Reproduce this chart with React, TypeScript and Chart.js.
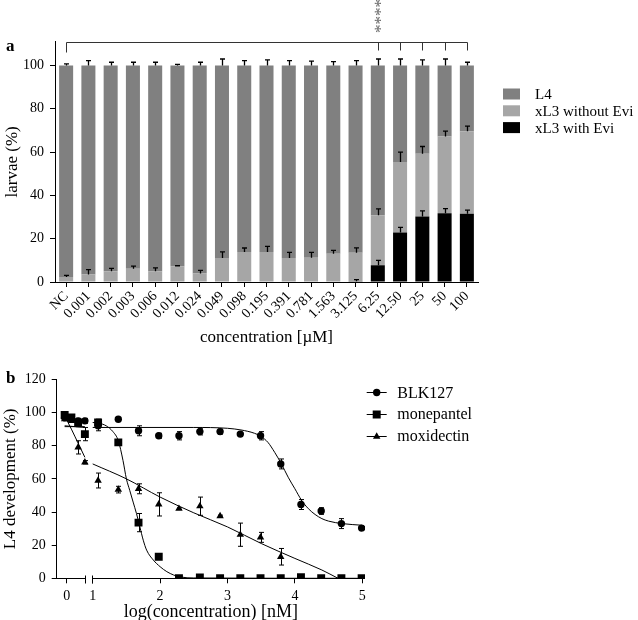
import React, { useEffect, useRef } from 'react';
import { Chart, registerables } from 'chart.js';

Chart.register(...registerables);

const SERIF = '"Liberation Serif", "Times New Roman", Times, serif';

// ---------------- Panel a data ----------------
const concentrationsA = ['NC', '0.001', '0.002', '0.003', '0.006', '0.012', '0.024', '0.049', '0.098', '0.195', '0.391', '0.781', '1.563', '3.125', '6.25', '12.50', '25', '50', '100'];
const l4Pct = [97.7, 96.5, 95, 93.9, 95, 92.8, 96.1, 88.9, 86.1, 86.1, 88.9, 88.8, 87, 86.5, 69.2, 44.6, 40.8, 32.8, 30.4];
const xl3WithoutEviPct = [2.3, 3.5, 5, 6.1, 5, 7.2, 3.9, 11.1, 13.9, 13.9, 11.1, 11.2, 13, 13.2, 23.1, 32.5, 28.9, 35.4, 38.1];
const xl3WithEviPct = [0, 0, 0, 0, 0, 0, 0, 0, 0, 0, 0, 0, 0, 0.3, 7.7, 22.9, 30.3, 31.8, 31.5];
const l4Err = [0.8, 2.3, 1.5, 1.5, 1.5, 0.5, 1.5, 3, 2.3, 2.6, 2.3, 2, 1.8, 2.3, 3, 3, 2.6, 3, 1.5];
const xl3WithoutEviErr = [0.8, 2.2, 1.3, 1.2, 1.5, 0.3, 1.5, 2.8, 1.8, 2.6, 2.6, 2.5, 1.6, 2.3, 3, 4.6, 3.4, 2.5, 2.4];
const xl3WithEviErr = [0, 0, 0, 0, 0, 0, 0, 0, 0, 0, 0, 0, 0, 0.8, 2.3, 2.3, 2.6, 2.1, 1.7];
const yTicksA = [0, 20, 40, 60, 80, 100];
const significantCats = ['6.25', '12.50', '25', '50', '100'];
const significanceMark = '****';

// ---------------- Panel b data ----------------
const logConcB = [-0.03, 0.07, 0.17, 0.27, 1.08, 1.38, 1.68, 1.98, 2.28, 2.59, 2.89, 3.19, 3.49, 3.79, 4.09, 4.39, 4.69, 4.99];
const blk127 = [97, 96, 95, 95, 92, 96, 89, 86, 86, 88.5, 88.5, 87, 86, 69, 44.5, 40.6, 33, 30.3];
const blk127Err = [1, 1, 1, 1.5, 3, 0.5, 3, 1.5, 2.5, 2, 1.5, 1, 2.5, 3, 3, 2, 3, 0.5];
const monepantel = [98.5, 97, 94, 87, 94, 82, 33.6, 13, 0, 0.5, 0, 0, 0, 0, 0.7, 0, 0, 0];
const monepantelErr = [1.5, 1.5, 2.5, 4, 2, 1, 5.5, 1, 0, 0, 0, 0, 0, 0, 0.5, 0, 0, 0];
const moxidectin = [96, 95, 79, 70, 59, 53.5, 54, 44.6, 42, 43.5, 37.6, 26.3, 24.7, 13];
const moxidectinErr = [1, 1, 4, 1, 4.5, 2, 3, 7, 0.5, 5.5, 0.5, 7, 3, 5];

// fitted curves
const blk127FitLeftX = [-0.03, 0.27];
const blk127FitLeftY = [91.5, 91.5];
const blk127FitX = [1.0, 2.5, 3.0, 3.2, 3.4, 3.5, 3.6, 3.7, 3.8, 3.9, 4.0, 4.1, 4.2, 4.3, 4.4, 4.5, 4.7, 5.0];
const blk127FitY = [91, 91, 90.5, 89.5, 87.5, 85.5, 82, 76, 69, 61, 54, 47, 42, 38.5, 36, 34.5, 33, 32];
const monepantelFitLeftX = [-0.03, 0.27];
const monepantelFitLeftY = [92, 91];
const monepantelFitX = [1.0, 1.1, 1.2, 1.3, 1.38, 1.45, 1.5, 1.55, 1.6, 1.65, 1.7, 1.75, 1.8, 1.9, 2.0, 2.1, 2.2, 2.3, 2.5, 5.0];
const monepantelFitY = [94, 93.5, 92, 88.5, 83, 71, 60, 53, 46, 39, 31, 23, 17, 11, 7, 4, 2, 0.8, 0.2, 0];
const moxidectinFitLeftX = [-0.03, 0.07, 0.17, 0.27];
const moxidectinFitLeftY = [98, 90, 81.5, 73];
const moxidectinFitX = [1.0, 1.5, 2.0, 2.5, 3.0, 3.5, 4.0, 4.4, 4.64];
const moxidectinFitY = [69, 60, 49, 39.5, 31, 21, 12, 5, 0];

const xTickValuesB = [0, 1, 2, 3, 4, 5];
const yTicksB = [0, 20, 40, 60, 80, 100, 120];

// axis break: values between the two segments are cut out
const LEFT_SEG_END = 0.27;
const BREAK_SHIFT = 0.614;
const RIGHT_SEG_START = 0.371;
const toAxis = (x: number) => (x > 0.6 ? x - BREAK_SHIFT : x);

const COLOR_L4 = '#808080';
const COLOR_WITHOUT = '#a6a6a6';
const COLOR_WITH = '#000000';

Chart.defaults.font.family = SERIF;
Chart.defaults.color = '#000';

function drawMarker(ctx: CanvasRenderingContext2D, style: string, x: number, y: number) {
  ctx.beginPath();
  if (style === 'circle') {
    ctx.arc(x, y, 3.7, 0, Math.PI * 2);
  } else if (style === 'rect') {
    ctx.rect(x - 4, y - 4, 8, 8);
  } else {
    const r = 4.3;
    ctx.moveTo(x, y - r);
    ctx.lineTo(x + r * 0.866, y + r * 0.5);
    ctx.lineTo(x - r * 0.866, y + r * 0.5);
    ctx.closePath();
  }
  ctx.fill();
}

const panelAPlugin = {
  id: 'panelAExtras',
  afterDatasetsDraw(chart: any) {
    const ctx = chart.ctx;
    const ys = chart.scales.y;
    const ppu = ys.getPixelForValue(0) - ys.getPixelForValue(1);
    ctx.save();
    ctx.strokeStyle = '#000';
    ctx.lineWidth = 1.3;
    chart.data.datasets.forEach((ds: any, i: number) => {
      const meta = chart.getDatasetMeta(i);
      meta.data.forEach((el: any, j: number) => {
        const e = ds.errors[j];
        if (!e) return;
        const x = Math.round(el.x) + 0.5;
        const top = el.y - e * ppu;
        ctx.beginPath();
        ctx.moveTo(x, el.y);
        ctx.lineTo(x, top);
        ctx.moveTo(x - 2.5, top);
        ctx.lineTo(x + 2.5, top);
        ctx.stroke();
      });
    });
    ctx.restore();
  },
  afterDraw(chart: any) {
    const ctx = chart.ctx;
    const xs = chart.scales.x;
    const top = Math.round(chart.chartArea.top) + 0.5;
    ctx.save();
    // bracket
    ctx.strokeStyle = '#333';
    ctx.lineWidth = 1;
    const x0 = Math.round(xs.getPixelForValue(0)) + 0.5;
    const x1 = Math.round(xs.getPixelForValue(concentrationsA.length - 1)) + 0.5;
    ctx.beginPath();
    ctx.moveTo(x0, top + 10);
    ctx.lineTo(x0, top);
    ctx.lineTo(x1, top);
    significantCats.forEach((c) => {
      const x = Math.round(xs.getPixelForValue(concentrationsA.indexOf(c))) + 0.5;
      ctx.moveTo(x, top);
      ctx.lineTo(x, top + 8);
    });
    ctx.stroke();
    // asterisks
    const xa = xs.getPixelForValue(concentrationsA.indexOf(significantCats[0]));
    ctx.save();
    ctx.translate(xa - 8, 16);
    ctx.rotate(Math.PI / 2);
    ctx.fillStyle = '#666';
    ctx.font = `17px ${SERIF}`;
    ctx.textAlign = 'center';
    ctx.textBaseline = 'alphabetic';
    ctx.fillText(significanceMark, 0, 0);
    ctx.restore();
    // legend
    ctx.font = `15px ${SERIF}`;
    ctx.textBaseline = 'middle';
    ctx.textAlign = 'left';
    const dsets = [...chart.data.datasets].reverse();
    dsets.forEach((ds: any, k: number) => {
      const yy = 94 + k * 16.8;
      ctx.fillStyle = ds.backgroundColor;
      ctx.fillRect(503, yy - 5.5, 17, 11);
      ctx.fillStyle = '#000';
      ctx.fillText(ds.label, 535, yy + 1);
    });
    // panel letter
    ctx.font = `bold 17px ${SERIF}`;
    ctx.fillStyle = '#000';
    ctx.fillText('a', 6, 47);
    ctx.restore();
  },
};

const panelBPlugin = {
  id: 'panelBExtras',
  afterDatasetsDraw(chart: any) {
    const ctx = chart.ctx;
    const ys = chart.scales.y;
    const ppu = ys.getPixelForValue(0) - ys.getPixelForValue(1);
    ctx.save();
    ctx.strokeStyle = '#000';
    ctx.lineWidth = 1;
    chart.data.datasets.forEach((ds: any, i: number) => {
      if (!ds.errors) return;
      const meta = chart.getDatasetMeta(i);
      meta.data.forEach((el: any, j: number) => {
        const e = ds.errors[j];
        if (!e) return;
        const x = Math.round(el.x) + 0.5;
        const d = e * ppu;
        ctx.beginPath();
        ctx.moveTo(x, el.y - d);
        ctx.lineTo(x, el.y + d);
        ctx.moveTo(x - 2.5, el.y - d);
        ctx.lineTo(x + 2.5, el.y - d);
        ctx.moveTo(x - 2.5, el.y + d);
        ctx.lineTo(x + 2.5, el.y + d);
        ctx.stroke();
      });
    });
    ctx.restore();
  },
  afterDraw(chart: any) {
    const ctx = chart.ctx;
    const xs = chart.scales.x;
    const { left, right, bottom } = chart.chartArea;
    const y = Math.round(bottom) + 0.5;
    ctx.save();
    ctx.strokeStyle = '#000';
    ctx.lineWidth = 1;
    const xb1 = Math.round(xs.getPixelForValue(LEFT_SEG_END)) + 0.5;
    const xb2 = Math.round(xs.getPixelForValue(RIGHT_SEG_START)) + 0.5;
    ctx.beginPath();
    ctx.moveTo(left, y);
    ctx.lineTo(xb1, y);
    ctx.moveTo(xb2, y);
    ctx.lineTo(right, y);
    ctx.moveTo(xb1, y - 3);
    ctx.lineTo(xb1, y + 5);
    ctx.moveTo(xb2, y - 3);
    ctx.lineTo(xb2, y + 5);
    ctx.stroke();
    // legend
    const items = chart.data.datasets.slice(0, 3);
    ctx.font = `16px ${SERIF}`;
    ctx.textBaseline = 'middle';
    ctx.textAlign = 'left';
    items.forEach((ds: any, k: number) => {
      const yy = 27.3 + k * 21.7;
      ctx.strokeStyle = '#000';
      ctx.lineWidth = 1;
      ctx.beginPath();
      ctx.moveTo(366.7, Math.round(yy) + 0.5);
      ctx.lineTo(386.7, Math.round(yy) + 0.5);
      ctx.stroke();
      ctx.fillStyle = '#000';
      drawMarker(ctx, ds.pointStyle, 376.7, Math.round(yy) + 0.5);
      ctx.fillText(ds.label, 397.3, yy + 1);
    });
    ctx.font = `bold 17px ${SERIF}`;
    ctx.fillText('b', 6, 14);
    ctx.restore();
  },
};

function PanelA() {
  const ref = useRef<HTMLCanvasElement>(null);
  useEffect(() => {
    const chart = new Chart(ref.current as HTMLCanvasElement, {
      type: 'bar',
      data: {
        labels: concentrationsA,
        datasets: [
          { label: 'xL3 with Evi', data: xl3WithEviPct, backgroundColor: COLOR_WITH, errors: xl3WithEviErr } as any,
          { label: 'xL3 without Evi', data: xl3WithoutEviPct, backgroundColor: COLOR_WITHOUT, errors: xl3WithoutEviErr } as any,
          { label: 'L4', data: l4Pct, backgroundColor: COLOR_L4, errors: l4Err } as any,
        ],
      },
      options: {
        responsive: false,
        animation: false,
        devicePixelRatio: 1,
        layout: { padding: { left: 0, right: 160, top: 41.7, bottom: 0 } },
        datasets: { bar: { categoryPercentage: 1, barPercentage: 0.63, borderWidth: 0 } },
        plugins: { legend: { display: false }, tooltip: { enabled: false } },
        scales: {
          x: {
            stacked: true,
            offset: true,
            grid: { drawOnChartArea: false, drawTicks: true, tickLength: 5, color: '#000', offset: false },
            border: { display: true, color: '#000', width: 1 },
            ticks: { font: { size: 14, family: SERIF }, color: '#000', minRotation: 45, maxRotation: 45, autoSkip: false, padding: 1 },
            title: { display: true, text: 'concentration [µM]', font: { size: 17, family: SERIF }, color: '#000', padding: { top: 0, bottom: 17 } },
            afterFit: (s: any) => { s.height = 83; },
          },
          y: {
            stacked: true,
            min: 0,
            max: 111,
            afterBuildTicks: (s: any) => { s.ticks = yTicksA.map((v) => ({ value: v })); },
            grid: { drawOnChartArea: false, drawTicks: true, tickLength: 5, color: '#000' },
            border: { display: true, color: '#000', width: 1 },
            ticks: { font: { size: 14, family: SERIF }, color: '#000', padding: 6 },
            title: { display: true, text: 'larvae (%)', font: { size: 17, family: SERIF }, color: '#000', padding: { top: 2, bottom: 0 } },
            afterFit: (s: any) => { s.width = 55; },
          },
        },
      } as any,
      plugins: [panelAPlugin],
    });
    return () => chart.destroy();
  }, []);
  return <canvas ref={ref} width={638} height={365} style={{ position: 'absolute', left: 0, top: 0, width: 638, height: 365 }} />;
}

const pts = (xs: number[], ys: number[]) => ys.map((v, i) => ({ x: toAxis(xs[i]), y: v }));

function PanelB() {
  const ref = useRef<HTMLCanvasElement>(null);
  useEffect(() => {
    const pointDs = (label: string, data: number[], err: number[], style: string, r: number) => ({
      label, data: pts(logConcB, data), errors: err, pointStyle: style, pointRadius: r,
      backgroundColor: '#000', borderColor: '#000', borderWidth: 0, showLine: false,
    });
    const fitDs = (xs: number[], ys: number[]) => ({
      label: '', data: pts(xs, ys), showLine: true, pointRadius: 0, borderColor: '#000', borderWidth: 1,
      cubicInterpolationMode: 'monotone', backgroundColor: 'transparent',
    });
    const chart = new Chart(ref.current as HTMLCanvasElement, {
      type: 'scatter',
      data: {
        datasets: [
          pointDs('BLK127', blk127, blk127Err, 'circle', 3.7),
          pointDs('monepantel', monepantel, monepantelErr, 'rect', 5.6),
          pointDs('moxidectin', moxidectin, moxidectinErr, 'triangle', 4.3),
          fitDs(blk127FitLeftX, blk127FitLeftY),
          fitDs(blk127FitX, blk127FitY),
          fitDs(monepantelFitLeftX, monepantelFitLeftY),
          fitDs(monepantelFitX, monepantelFitY),
          fitDs(moxidectinFitLeftX, moxidectinFitLeftY),
          fitDs(moxidectinFitX, moxidectinFitY),
        ] as any,
      },
      options: {
        responsive: false,
        animation: false,
        devicePixelRatio: 1,
        layout: { padding: { left: 0, right: 273, top: 11.3, bottom: 0 } },
        plugins: { legend: { display: false }, tooltip: { enabled: false } },
        scales: {
          x: {
            type: 'linear',
            min: -0.148,
            max: 4.426,
            afterBuildTicks: (s: any) => { s.ticks = xTickValuesB.map((v) => ({ value: toAxis(v) })); },
            grid: { drawOnChartArea: false, drawTicks: true, tickLength: 5, color: '#000' },
            border: { display: false },
            ticks: { font: { size: 14, family: SERIF }, color: '#000', padding: 5, callback: (_v: any, i: number) => String(xTickValuesB[i]) },
            title: { display: true, text: 'log(concentration) [nM]', font: { size: 18, family: SERIF }, color: '#000', padding: { top: 0, bottom: 4 } },
            afterFit: (s: any) => { s.height = 262 - 213.3; },
          },
          y: {
            min: 0,
            max: 120,
            afterBuildTicks: (s: any) => { s.ticks = yTicksB.map((v) => ({ value: v })); },
            grid: { drawOnChartArea: false, drawTicks: true, tickLength: 5, color: '#000' },
            border: { display: true, color: '#000', width: 1 },
            ticks: { font: { size: 14, family: SERIF }, color: '#000', padding: 6 },
            title: { display: true, text: 'L4 development (%)', font: { size: 17, family: SERIF }, color: '#000', padding: { top: 0, bottom: 0 } },
            afterFit: (s: any) => { s.width = 56.7; },
          },
        },
      } as any,
      plugins: [panelBPlugin],
    });
    return () => chart.destroy();
  }, []);
  return <canvas ref={ref} width={638} height={262} style={{ position: 'absolute', left: 0, top: 365, width: 638, height: 262 }} />;
}

export default function App() {
  return (
    <div style={{ position: 'fixed', left: 0, top: 0, width: 638, height: 620, overflow: 'hidden', background: '#fff' }}>
      <PanelA />
      <PanelB />
    </div>
  );
}
